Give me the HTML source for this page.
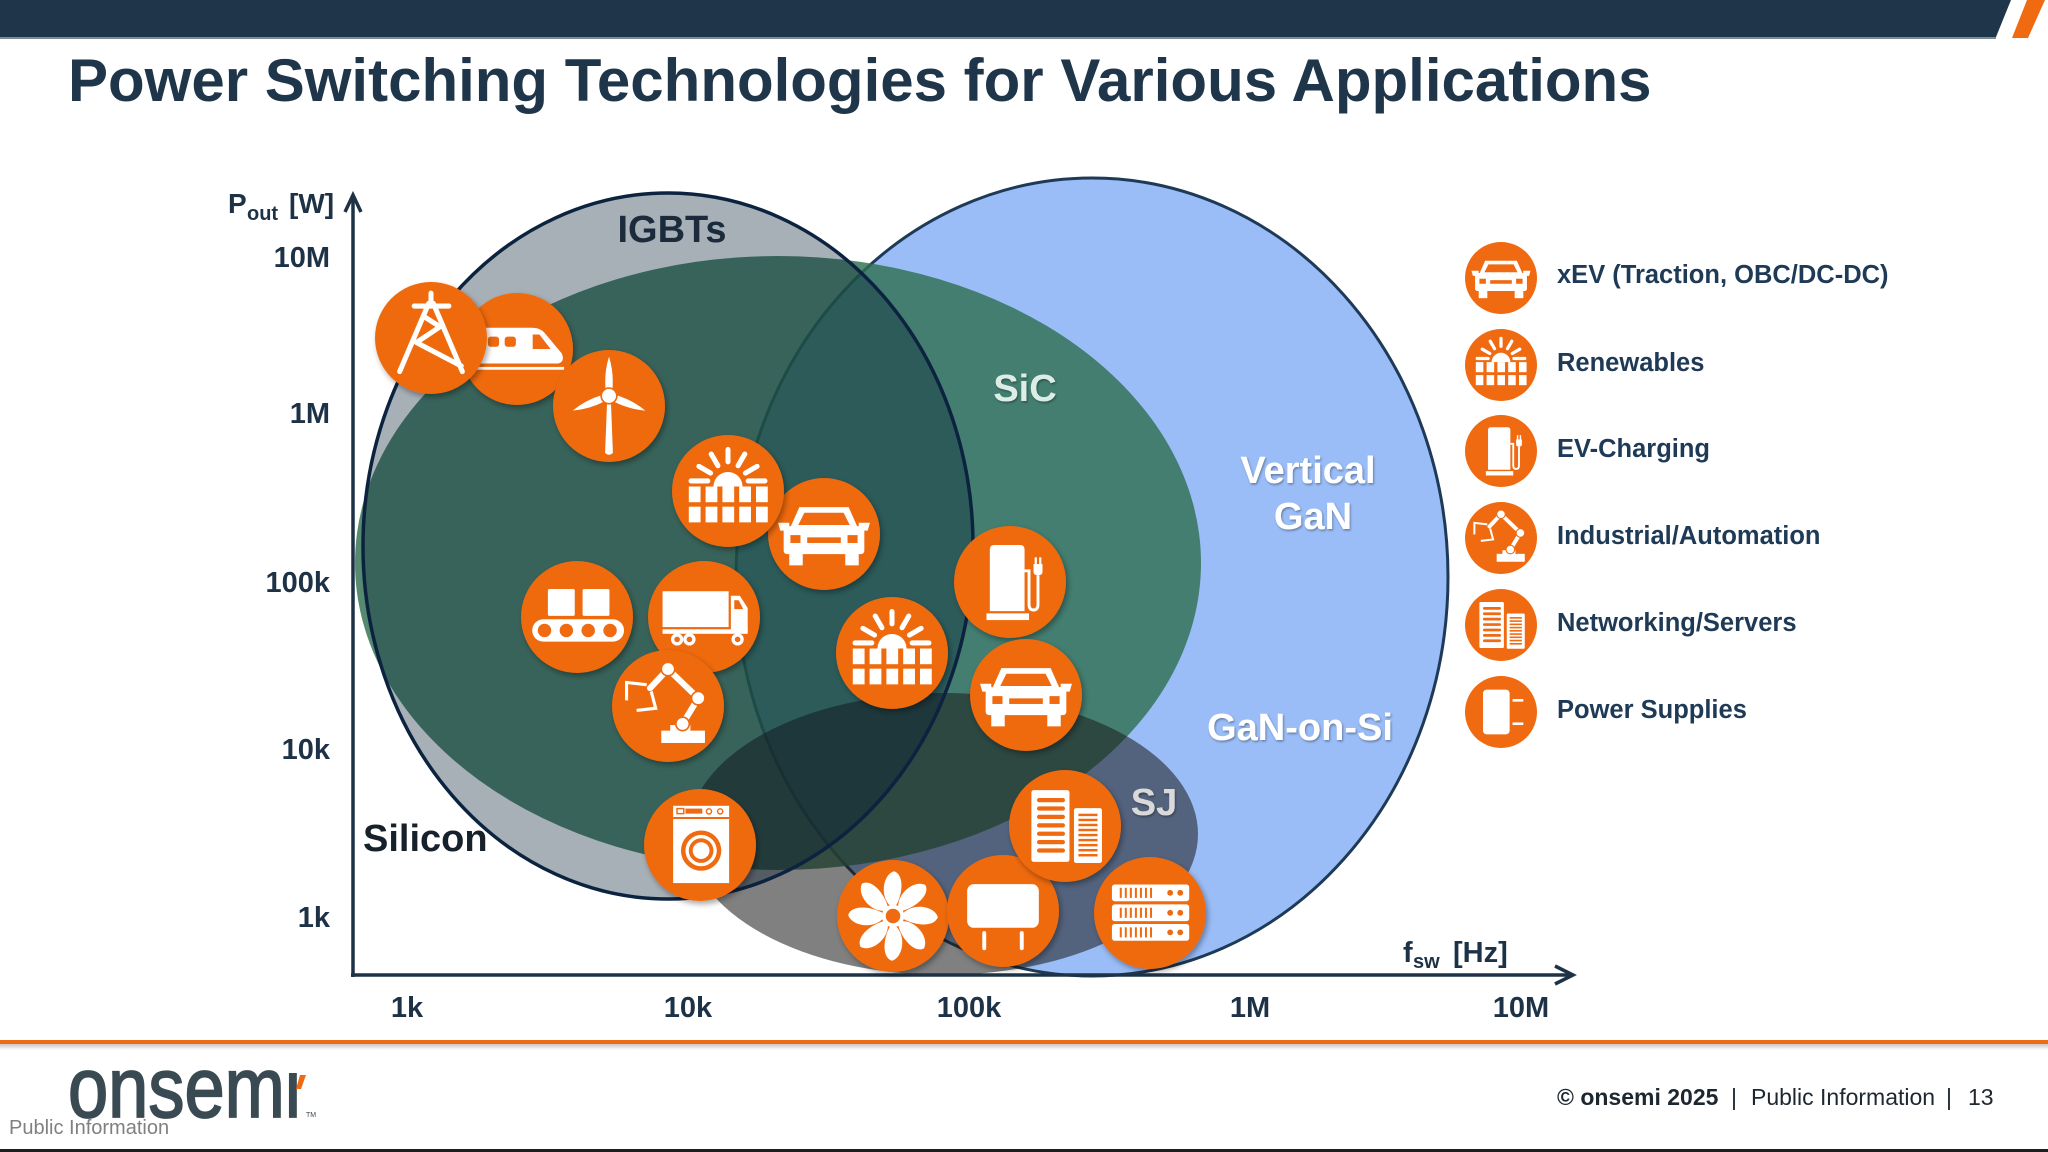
<!DOCTYPE html>
<html><head><meta charset="utf-8">
<style>
html,body{margin:0;padding:0;background:#fff;}
body{width:2048px;height:1152px;overflow:hidden;}
svg{display:block;}
text{font-family:"Liberation Sans",Arial,sans-serif;}
</style></head><body>
<svg width="2048" height="1152" viewBox="0 0 2048 1152" xmlns="http://www.w3.org/2000/svg">
<defs>
<filter id="sh" x="-30%" y="-30%" width="160%" height="160%"><feDropShadow dx="2" dy="3" stdDeviation="3" flood-color="#000" flood-opacity="0.35"/></filter>
<filter id="tsh" x="-10%" y="-10%" width="120%" height="130%"><feDropShadow dx="1" dy="1.5" stdDeviation="1" flood-color="#000" flood-opacity="0.35"/></filter>
<linearGradient id="fsh" x1="0" y1="0" x2="0" y2="1"><stop offset="0" stop-color="#c8c8c8"/><stop offset="1" stop-color="#fff"/></linearGradient>

<symbol id="i-car" viewBox="0 0 100 100">
<path d="M28 26H72L80 44H20Z" fill="#fff"/>
<path d="M32.5 31H67.5L73 42H27Z" fill="#ef6a10"/>
<path d="M9 40H19V47H11Z M91 40H81V47H89Z" fill="#fff"/>
<rect x="14" y="43" width="72" height="25" rx="3" fill="#fff"/>
<rect x="20" y="51" width="9" height="7" fill="#ef6a10"/>
<rect x="71" y="51" width="9" height="7" fill="#ef6a10"/>
<rect x="35" y="53" width="30" height="5" fill="#ef6a10"/>
<rect x="19" y="66" width="12" height="12" fill="#fff"/>
<rect x="69" y="66" width="12" height="12" fill="#fff"/>
</symbol>

<symbol id="i-sun" viewBox="0 0 100 100">
<path d="M50 13V24 M59 27.4L65 17 M41 27.4L35 17 M65.6 34L76 28 M34.4 34L24 28 M17 41H32 M68 41H83" stroke="#fff" stroke-width="4.5" stroke-linecap="round" fill="none"/>
<path d="M37 46A13 13 0 0 1 63 46Z" fill="#fff"/>
<g fill="#fff">
<rect x="15" y="46" width="10.5" height="14"/><rect x="30" y="46" width="10.5" height="14"/><rect x="45" y="46" width="10.5" height="14"/><rect x="60" y="46" width="10.5" height="14"/><rect x="75" y="46" width="10.5" height="14"/>
<rect x="15" y="64" width="10.5" height="14"/><rect x="30" y="64" width="10.5" height="14"/><rect x="45" y="64" width="10.5" height="14"/><rect x="60" y="64" width="10.5" height="14"/><rect x="75" y="64" width="10.5" height="14"/>
</g>
</symbol>

<symbol id="i-tower" viewBox="0 0 100 100">
<path d="M50 10V20 M35 21.5H66 M48 19L22 80 M52 19L78 80 M44 31L58 40 M58 40L37 54 M37 54L77 75" stroke="#fff" stroke-width="4.5" stroke-linecap="round" stroke-linejoin="round" fill="none"/>
</symbol>

<symbol id="i-train" viewBox="0 0 100 100">
<path d="M8 31H64Q71 31 75 36L90 54Q93 61 87 63H8Z" fill="#fff"/>
<rect x="24" y="39" width="10" height="9" rx="2.5" fill="#ef6a10"/>
<rect x="39" y="39" width="10" height="9" rx="2.5" fill="#ef6a10"/>
<path d="M64 37H70L80 50H64Z" fill="#ef6a10"/>
<rect x="8" y="66" width="84" height="2.5" fill="#fff"/>
</symbol>

<symbol id="i-wind" viewBox="0 0 100 100">
<path d="M48.3 46L46.5 92Q50 95 53.5 92L51.7 46Z" fill="#fff"/>
<g fill="#fff">
<path d="M50 6Q54.5 20 53 36H47Q45.5 20 50 6Z"/>
<path d="M50 6Q54.5 20 53 36H47Q45.5 20 50 6Z" transform="rotate(112 50 41)"/>
<path d="M50 6Q54.5 20 53 36H47Q45.5 20 50 6Z" transform="rotate(248 50 41)"/>
</g>
<circle cx="50" cy="41" r="7" fill="#fff" stroke="#ef6a10" stroke-width="1.5"/>
</symbol>

<symbol id="i-conv" viewBox="0 0 100 100">
<rect x="24" y="25" width="24" height="24" rx="1.5" fill="#fff"/>
<rect x="55" y="25" width="24" height="24" rx="1.5" fill="#fff"/>
<rect x="10" y="52" width="82" height="20" rx="10" fill="#fff"/>
<g fill="#ef6a10"><circle cx="21" cy="62" r="6"/><circle cx="40.5" cy="62" r="6"/><circle cx="60" cy="62" r="6"/><circle cx="79.5" cy="62" r="6"/></g>
</symbol>

<symbol id="i-truck" viewBox="0 0 100 100">
<rect x="13" y="27" width="59" height="32" fill="#fff"/>
<path d="M74 31H82L89 42V63H74Z" fill="#fff"/>
<path d="M77 35H81L85 43H77Z" fill="#ef6a10"/>
<rect x="13" y="61" width="76" height="4" fill="#fff"/>
<g fill="#fff"><circle cx="26" cy="70" r="5.5"/><circle cx="37" cy="70" r="5.5"/><circle cx="80" cy="70" r="5.5"/></g>
<g fill="#ef6a10"><circle cx="26" cy="70" r="2.5"/><circle cx="37" cy="70" r="2.5"/><circle cx="80" cy="70" r="2.5"/></g>
</symbol>

<symbol id="i-robot" viewBox="0 0 100 100">
<rect x="44" y="72" width="39" height="11" fill="#fff"/>
<rect x="52" y="67" width="18" height="6" fill="#fff"/>
<path d="M63 66L77 43L50 17L34 34" stroke="#fff" stroke-width="5.5" stroke-linecap="round" stroke-linejoin="round" fill="none"/>
<path d="M31 31L13 29V45 M35 37L39 52L22 54" stroke="#fff" stroke-width="2.8" fill="none"/>
<g fill="#fff" stroke="#ef6a10" stroke-width="1.5"><circle cx="63" cy="66" r="6"/><circle cx="77" cy="43" r="6"/><circle cx="50" cy="17" r="6"/></g>
</symbol>

<symbol id="i-ev" viewBox="0 0 100 100">
<path d="M32 21Q32 17 36 17H59Q63 17 63 21V76H32Z" fill="#fff"/>
<rect x="29" y="78" width="38" height="6" fill="#fff"/>
<path d="M63 40H67V70Q67 75 71 75Q75 75 75 70V44" stroke="#fff" stroke-width="2.6" fill="none"/>
<path d="M71 34H79V41Q79 44 75 44Q71 44 71 41Z" fill="#fff"/>
<rect x="72" y="28" width="2" height="7" fill="#fff"/><rect x="76" y="28" width="2" height="7" fill="#fff"/>
</symbol>

<symbol id="i-wash" viewBox="0 0 100 100">
<rect x="26" y="15" width="50" height="69" fill="#fff"/>
<rect x="26" y="25" width="50" height="1.8" fill="#ef6a10"/>
<rect x="29.5" y="17.5" width="6" height="4.5" fill="none" stroke="#ef6a10" stroke-width="1.3"/>
<rect x="37" y="17.5" width="15" height="4.5" fill="#ef6a10"/>
<circle cx="58" cy="20" r="2.3" fill="none" stroke="#ef6a10" stroke-width="1.3"/>
<circle cx="68" cy="20" r="2.3" fill="none" stroke="#ef6a10" stroke-width="1.3"/>
<circle cx="51" cy="55" r="18" fill="#ef6a10"/>
<circle cx="51" cy="55" r="14" fill="#fff"/>
<circle cx="51" cy="55" r="11" fill="#ef6a10"/>
<circle cx="51" cy="55" r="7.5" fill="#fff"/>
</symbol>

<symbol id="i-net" viewBox="0 0 100 100">
<rect x="20" y="18" width="34" height="64" rx="2" fill="#fff"/>
<rect x="58" y="34" width="25" height="49" rx="2" fill="#fff"/>
<g fill="#ef6a10">
<rect x="25" y="25" width="25" height="3.8" rx="1.9"/><rect x="25" y="32.5" width="25" height="3.8" rx="1.9"/><rect x="25" y="40" width="25" height="3.8" rx="1.9"/><rect x="25" y="47.5" width="25" height="3.8" rx="1.9"/><rect x="25" y="55" width="25" height="3.8" rx="1.9"/><rect x="25" y="62.5" width="25" height="3.8" rx="1.9"/><rect x="25" y="70" width="25" height="3.8" rx="1.9"/>
<rect x="62" y="39" width="17" height="2.2"/><rect x="62" y="43.5" width="17" height="2.2"/><rect x="62" y="48" width="17" height="2.2"/><rect x="62" y="52.5" width="17" height="2.2"/><rect x="62" y="57" width="17" height="2.2"/><rect x="62" y="61.5" width="17" height="2.2"/><rect x="62" y="66" width="17" height="2.2"/><rect x="62" y="70.5" width="17" height="2.2"/><rect x="62" y="75" width="17" height="2.2"/>
</g>
</symbol>

<symbol id="i-fan" viewBox="0 0 100 100">
<g fill="#fff">
<path d="M47.5 41C38 32 41 13 51 10C60 13 59 30 52.5 41Z"/>
<path d="M47.5 41C38 32 41 13 51 10C60 13 59 30 52.5 41Z" transform="rotate(45 50 50)"/>
<path d="M47.5 41C38 32 41 13 51 10C60 13 59 30 52.5 41Z" transform="rotate(90 50 50)"/>
<path d="M47.5 41C38 32 41 13 51 10C60 13 59 30 52.5 41Z" transform="rotate(135 50 50)"/>
<path d="M47.5 41C38 32 41 13 51 10C60 13 59 30 52.5 41Z" transform="rotate(180 50 50)"/>
<path d="M47.5 41C38 32 41 13 51 10C60 13 59 30 52.5 41Z" transform="rotate(225 50 50)"/>
<path d="M47.5 41C38 32 41 13 51 10C60 13 59 30 52.5 41Z" transform="rotate(270 50 50)"/>
<path d="M47.5 41C38 32 41 13 51 10C60 13 59 30 52.5 41Z" transform="rotate(315 50 50)"/>
</g>
<circle cx="50" cy="50" r="10" fill="#fff"/>
<circle cx="50" cy="50" r="6.5" fill="#ef6a10"/>
</symbol>

<symbol id="i-plug" viewBox="0 0 100 100">
<rect x="18" y="26" width="64" height="39" rx="6" fill="#fff"/>
<rect x="31.5" y="68" width="3.5" height="17" rx="1.7" fill="#fff"/>
<rect x="65" y="68" width="3.5" height="17" rx="1.7" fill="#fff"/>
</symbol>

<symbol id="i-rack" viewBox="0 0 100 100">
<g fill="#fff"><rect x="16" y="24.5" width="69" height="15" rx="2.5"/><rect x="16" y="42.3" width="69" height="15" rx="2.5"/><rect x="16" y="59.8" width="69" height="15" rx="2.5"/></g>
<g fill="#ef6a10">
<g id="slits"><rect x="23" y="27.5" width="1.8" height="9"/><rect x="27.5" y="27.5" width="1.8" height="9"/><rect x="32" y="27.5" width="1.8" height="9"/><rect x="36.5" y="27.5" width="1.8" height="9"/><rect x="41" y="27.5" width="1.8" height="9"/><rect x="45.5" y="27.5" width="1.8" height="9"/><rect x="50" y="27.5" width="1.8" height="9"/><circle cx="68" cy="32" r="2.6"/><circle cx="77" cy="32" r="2.6"/></g>
<use href="#slits" y="17.8"/>
<use href="#slits" y="35.3"/>
</g>
</symbol>

<symbol id="i-ps" viewBox="0 0 100 100">
<rect x="25" y="19" width="37" height="62" rx="5" fill="#fff"/>
<rect x="66" y="32" width="15" height="3.6" fill="#fff"/>
<rect x="66" y="64.5" width="15" height="3.6" fill="#fff"/>
</symbol>
</defs>

<!-- top bar -->
<path d="M0 0H2011L1996 37H0Z" fill="#1f3549"/>
<rect x="0" y="37" width="1996" height="2" fill="#7d8b99"/>
<polygon points="2027,0 2045,0 2028,38 2012,38" fill="#ef6a10"/>

<!-- title -->
<text x="68" y="101" font-size="60" font-weight="bold" fill="#1f3549">Power Switching Technologies for Various Applications</text>

<!-- ellipses -->
<ellipse cx="1092" cy="577" rx="356" ry="399" fill="#9abdf7" stroke="#1e3a56" stroke-width="3"/>
<ellipse cx="778" cy="563" rx="423" ry="307" fill="#307052" fill-opacity="0.82"/>
<ellipse cx="943" cy="834" rx="255" ry="141" fill="#1c1c1c" fill-opacity="0.56"/>
<ellipse cx="668" cy="546" rx="305" ry="353" fill="#031a31" fill-opacity="0.35" stroke="#0c2340" stroke-width="3.5"/>

<!-- region labels -->
<text x="672" y="242" font-size="38" font-weight="bold" fill="#1b2b3c" text-anchor="middle">IGBTs</text>
<g filter="url(#tsh)" font-weight="bold" font-size="38" text-anchor="middle">
<text x="1025" y="401" fill="#dcede6">SiC</text>
<text x="1308" y="483" fill="#ffffff">Vertical</text>
<text x="1313" y="529" fill="#ffffff">GaN</text>
<text x="1300" y="740" fill="#ffffff">GaN-on-Si</text>
<text x="1154" y="815" fill="#d9d9d9">SJ</text>
</g>
<text x="363" y="851" font-size="38" font-weight="bold" fill="#17212b">Silicon</text>

<!-- axes -->
<g stroke="#1d3246" stroke-width="3.5" fill="none">
<path d="M353 197V977"/>
<path d="M345 212L353 195L361 212"/>
<path d="M351 975H1572"/>
<path d="M1555 966L1573 975L1555 984"/>
</g>
<g font-size="29" font-weight="bold" fill="#1d3246">
<g text-anchor="end">
<text x="330" y="267">10M</text>
<text x="330" y="423">1M</text>
<text x="330" y="592">100k</text>
<text x="330" y="759">10k</text>
<text x="330" y="927">1k</text>
</g>
<g text-anchor="middle">
<text x="407" y="1017">1k</text>
<text x="688" y="1017">10k</text>
<text x="969" y="1017">100k</text>
<text x="1250" y="1017">1M</text>
<text x="1521" y="1017">10M</text>
</g>
<text x="228" y="213" font-size="28">P</text>
<text x="247" y="220" font-size="20">out</text>
<text x="289" y="213" font-size="28">[W]</text>
<text x="1403" y="962">f</text>
<text x="1413" y="968" font-size="20">sw</text>
<text x="1453" y="962">[Hz]</text>
</g>

<!-- application icons -->
<g>
<g><circle cx="517" cy="349" r="56" fill="#ef6a10" filter="url(#sh)"/><use href="#i-train" x="461" y="293" width="112" height="112"/></g>
<g><circle cx="431" cy="338" r="56" fill="#ef6a10" filter="url(#sh)"/><use href="#i-tower" x="375" y="282" width="112" height="112"/></g>
<g><circle cx="609" cy="406" r="56" fill="#ef6a10" filter="url(#sh)"/><use href="#i-wind" x="553" y="350" width="112" height="112"/></g>
<g><circle cx="824" cy="534" r="56" fill="#ef6a10" filter="url(#sh)"/><use href="#i-car" x="768" y="478" width="112" height="112"/></g>
<g><circle cx="728" cy="491" r="56" fill="#ef6a10" filter="url(#sh)"/><use href="#i-sun" x="672" y="435" width="112" height="112"/></g>
<g><circle cx="577" cy="617" r="56" fill="#ef6a10" filter="url(#sh)"/><use href="#i-conv" x="521" y="561" width="112" height="112"/></g>
<g><circle cx="704" cy="617" r="56" fill="#ef6a10" filter="url(#sh)"/><use href="#i-truck" x="648" y="561" width="112" height="112"/></g>
<g><circle cx="668" cy="706" r="56" fill="#ef6a10" filter="url(#sh)"/><use href="#i-robot" x="612" y="650" width="112" height="112"/></g>
<g><circle cx="892" cy="653" r="56" fill="#ef6a10" filter="url(#sh)"/><use href="#i-sun" x="836" y="597" width="112" height="112"/></g>
<g><circle cx="1010" cy="582" r="56" fill="#ef6a10" filter="url(#sh)"/><use href="#i-ev" x="954" y="526" width="112" height="112"/></g>
<g><circle cx="1026" cy="695" r="56" fill="#ef6a10" filter="url(#sh)"/><use href="#i-car" x="970" y="639" width="112" height="112"/></g>
<g><circle cx="700" cy="845" r="56" fill="#ef6a10" filter="url(#sh)"/><use href="#i-wash" x="644" y="789" width="112" height="112"/></g>
<g><circle cx="893" cy="916" r="56" fill="#ef6a10" filter="url(#sh)"/><use href="#i-fan" x="837" y="860" width="112" height="112"/></g>
<g><circle cx="1003" cy="911" r="56" fill="#ef6a10" filter="url(#sh)"/><use href="#i-plug" x="947" y="855" width="112" height="112"/></g>
<g><circle cx="1150" cy="913" r="56" fill="#ef6a10" filter="url(#sh)"/><use href="#i-rack" x="1094" y="857" width="112" height="112"/></g>
<g><circle cx="1065" cy="826" r="56" fill="#ef6a10" filter="url(#sh)"/><use href="#i-net" x="1009" y="770" width="112" height="112"/></g>
</g>

<!-- legend -->
<g>
<circle cx="1501" cy="278" r="36" fill="#ef6a10"/><use href="#i-car" x="1465" y="242" width="72" height="72"/>
<circle cx="1501" cy="365" r="36" fill="#ef6a10"/><use href="#i-sun" x="1465" y="329" width="72" height="72"/>
<circle cx="1501" cy="451" r="36" fill="#ef6a10"/><use href="#i-ev" x="1465" y="415" width="72" height="72"/>
<circle cx="1501" cy="538" r="36" fill="#ef6a10"/><use href="#i-robot" x="1465" y="502" width="72" height="72"/>
<circle cx="1501" cy="625" r="36" fill="#ef6a10"/><use href="#i-net" x="1465" y="589" width="72" height="72"/>
<circle cx="1501" cy="712" r="36" fill="#ef6a10"/><use href="#i-ps" x="1465" y="676" width="72" height="72"/>
</g>
<g font-size="25.5" font-weight="bold" fill="#1f3a56">
<text x="1557" y="283">xEV (Traction, OBC/DC-DC)</text>
<text x="1557" y="371">Renewables</text>
<text x="1557" y="457">EV-Charging</text>
<text x="1557" y="544">Industrial/Automation</text>
<text x="1557" y="631">Networking/Servers</text>
<text x="1557" y="718">Power Supplies</text>
</g>

<!-- footer -->
<rect x="0" y="1040" width="2048" height="4" fill="#ee6c13"/>
<rect x="0" y="1044" width="2048" height="6" fill="url(#fsh)"/>
<text transform="translate(68,1117) scale(0.85,1)" font-size="85" fill="#3a4a53" stroke="#3a4a53" stroke-width="1.8">onsemi</text>
<rect x="284" y="1050" width="26" height="23" fill="#fff"/>
<polygon points="300,1075 306,1075 301,1089 296,1089" fill="#ef6a10"/>
<text x="306" y="1117" font-size="7" fill="#3a4a53">TM</text>
<text x="9" y="1134" font-size="20" fill="#808080">Public Information</text>
<g font-size="23" fill="#1d2730">
<text x="1557" y="1105" font-weight="bold">© onsemi 2025</text>
<text x="1731" y="1105">|</text>
<text x="1751" y="1105">Public Information</text>
<text x="1946" y="1105">|</text>
<text x="1968" y="1105">13</text>
</g>
<rect x="0" y="1149" width="2048" height="3" fill="#1e1e1e"/>
</svg>
</body></html>
